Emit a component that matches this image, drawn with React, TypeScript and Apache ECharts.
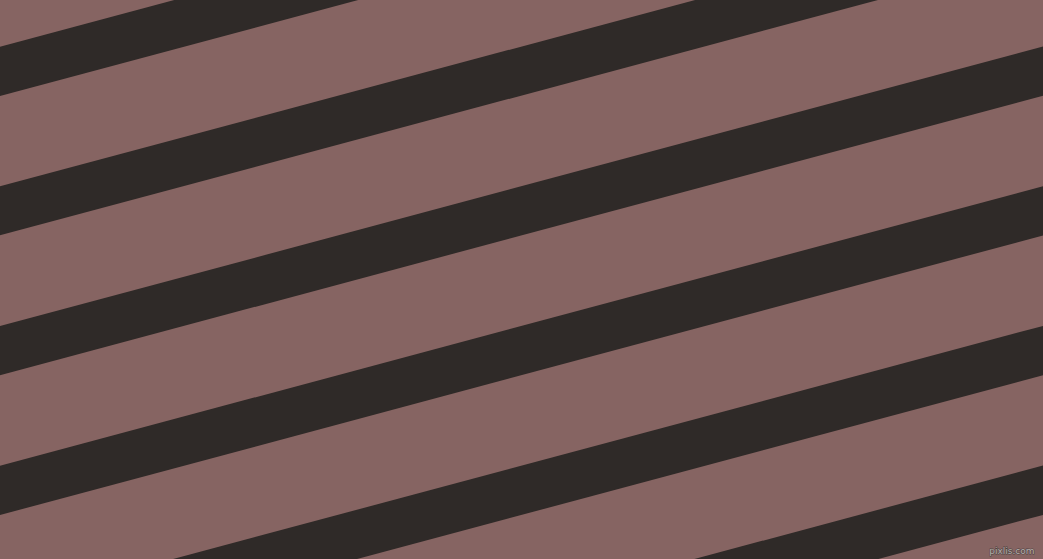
import React, { useEffect, useRef } from "react";
import * as echarts from "echarts";

// Stripe data (in pixel-like axis units, y grows downward)
const bandTopAtLeft = [46.7, 186.3, 326.0, 465.7, 605.4, 745.1];
const bandThickness = [49.3, 49.0, 49.2, 49.3, 49.3, 49.3];
const bandSlope = 0.268; // rise per unit x (15°)
const xExtent = [0, 1043];
const yExtent = [0, 559];

const W = 1043;
const H = 559;

export default function App() {
  const ref = useRef<HTMLDivElement>(null);
  useEffect(() => {
    document.body.style.margin = "0";
    if (!ref.current) return;
    const chart = echarts.init(ref.current, undefined, { renderer: "svg" });
    const data = bandTopAtLeft.map((t, i) => [t, bandThickness[i]]);
    chart.setOption({
      animation: false,
      backgroundColor: "#866462",
      grid: { left: 0, right: 0, top: 0, bottom: 0 },
      xAxis: { type: "value", min: xExtent[0], max: xExtent[1], show: false },
      yAxis: { type: "value", min: yExtent[0], max: yExtent[1], inverse: true, show: false },
      series: [
        {
          type: "custom",
          clip: true,
          data,
          renderItem: (params: any, api: any) => {
            const top = api.value(0);
            const th = api.value(1);
            const x0 = xExtent[0];
            const x1 = xExtent[1];
            const pts = [
              api.coord([x0, top]),
              api.coord([x1, top - bandSlope * (x1 - x0)]),
              api.coord([x1, top + th - bandSlope * (x1 - x0)]),
              api.coord([x0, top + th]),
            ];
            return {
              type: "polygon",
              shape: { points: pts },
              style: { fill: "#2f2a28" },
            };
          },
        },
      ],
      graphic: [
        {
          type: "text",
          right: 8,
          bottom: 3,
          style: {
            text: "pixlis.com",
            fill: "#b8b0ae",
            stroke: "#4a4240",
            lineWidth: 1,
            font: "9px 'DejaVu Sans', sans-serif",
          },
        },
      ],
    });
    return () => chart.dispose();
  }, []);
  return <div ref={ref} style={{ width: W, height: H }} />;
}
